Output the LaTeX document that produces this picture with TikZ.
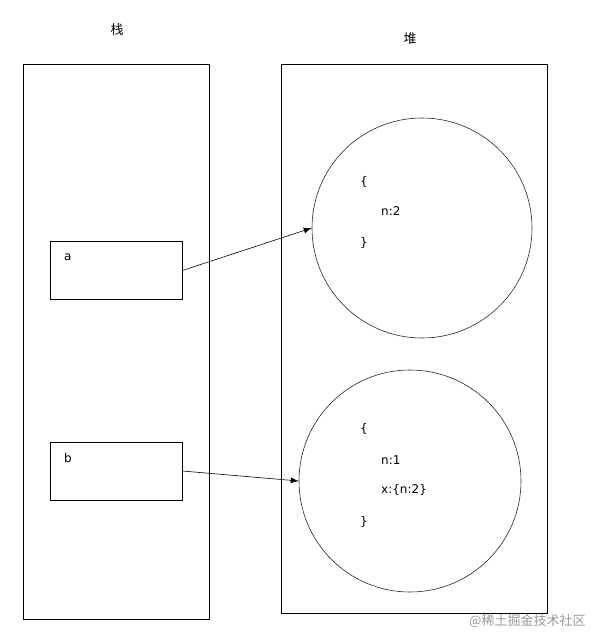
\documentclass[tikz,border=0pt]{standalone}
\usepackage{fontspec}
\setmainfont{DejaVu Sans}
\newfontfamily\cjk{Noto Sans CJK SC}
\usetikzlibrary{arrows.meta}
\tikzset{
  every node/.style={font=\fontsize{12}{14}\selectfont},
  region/.style={draw, line width=0.8pt, inner sep=0pt},
  var/.style={draw, line width=0.8pt, minimum width=132pt, minimum height=58pt, inner sep=0pt},
  obj/.style={draw, circle, line width=0.6pt, draw=black!85, inner sep=0pt},
  code/.style={anchor=west, inner sep=0pt},
  title/.style={font=\cjk\fontsize{13}{15}\selectfont},
  ref/.style={-{Latex[length=8pt,width=6pt]}, line width=0.6pt},
}

\begin{document}
\begin{tikzpicture}[x=1pt, y=-1pt]
  \useasboundingbox (0,0) rectangle (599,643);

  \node[title] (stacklabel) at (117,30) {栈};
  \node[title] (heaplabel) at (410,39) {堆};

  \node[region, minimum width=186pt, minimum height=555pt] (stack) at (116,341.5) {};
  \node[region, minimum width=266pt, minimum height=549pt] (heap) at (414,338.5) {};

  \node[var] (a) at (116,270.5) {};
  \node[var] (b) at (116,471) {};
  \node[code] (alabel) at (64,257) {a};
  \node[code] (blabel) at (64,458) {b};

  \node[obj, minimum size=220pt] (obja) at (422,228) {};
  \node[obj, minimum size=222pt] (objb) at (410,481) {};

  % first object
  \node[code] (oa1) at (360,182) {\{};
  \node[code] (oa2) at (381,211) {n:2};
  \node[code] (oa3) at (360,243) {\}};

  % second object
  \node[code] (ob1) at (360,429) {\{};
  \node[code] (ob2) at (381,460) {n:1};
  \node[code] (ob3) at (381,490) {x:\{n:2\}};
  \node[code] (ob4) at (360,522) {\}};

  \draw[ref] (a.east) -- (obja.west);
  \draw[ref] (b.east) -- (objb.west);

  \node[font=\cjk\fontsize{13}{15}\selectfont, text=black!40, anchor=west, inner sep=0pt] (mark) at (469,621) {@稀土掘金技术社区};
\end{tikzpicture}
\end{document}
